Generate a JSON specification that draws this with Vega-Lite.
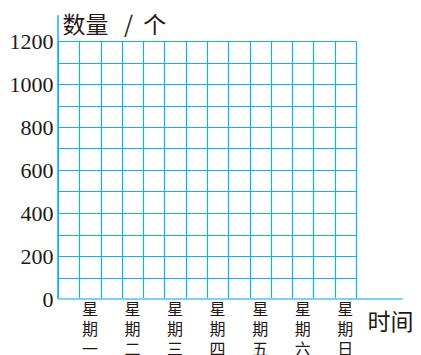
{
  "$schema": "https://vega.github.io/schema/vega-lite/v6.json",
  "width": 298,
  "height": 258,
  "autosize": "none",
  "padding": {"left": 58, "top": 41, "right": 65, "bottom": 56},
  "background": "white",
  "config": {"view": {"stroke": null}},
  "data": {
    "values": [
      {"时间": "星期一", "数量": null},
      {"时间": "星期二", "数量": null},
      {"时间": "星期三", "数量": null},
      {"时间": "星期四", "数量": null},
      {"时间": "星期五", "数量": null},
      {"时间": "星期六", "数量": null},
      {"时间": "星期日", "数量": null}
    ]
  },
  "resolve": {
    "scale": {"x": "independent", "y": "independent"},
    "axis": {"x": "independent", "y": "independent"}
  },
  "layer": [
    {
      "data": {"values": [{}]},
      "mark": {"type": "rule", "color": "#12b1ee", "strokeWidth": 1.5},
      "encoding": {
        "x": {
          "datum": 0,
          "type": "quantitative",
          "scale": {"domain": [0, 7], "nice": false, "zero": false},
          "axis": {
            "orient": "bottom",
            "values": [0, 0.5, 1, 1.5, 2, 2.5, 3, 3.5, 4, 4.5, 5, 5.5, 6, 6.5, 7],
            "grid": true,
            "gridColor": "#12b1ee",
            "gridOpacity": 1,
            "gridWidth": 1.2,
            "labels": false,
            "ticks": false,
            "domain": false,
            "title": null
          }
        },
        "y": {
          "datum": 0,
          "type": "quantitative",
          "scale": {"domain": [0, 1200], "nice": false},
          "axis": {
            "orient": "left",
            "values": [0, 100, 200, 300, 400, 500, 600, 700, 800, 900, 1000, 1100, 1200],
            "grid": true,
            "gridColor": "#12b1ee",
            "gridOpacity": 1,
            "gridWidth": 1.2,
            "labelExpr": "datum.value % 200 == 0 ? datum.label : ''",
            "format": "d",
            "labelFont": "Liberation Serif",
            "labelFontSize": 22,
            "labelColor": "#231815",
            "labelPadding": 5,
            "labelBaseline": "middle",
            "labelOverlap": false,
            "ticks": false,
            "domain": false,
            "title": "数量\u00a0\u00a0\u00a0/\u00a0\u00a0个",
            "titleAngle": 0,
            "titleAlign": "left",
            "titleBaseline": "bottom",
            "titleX": 4,
            "titleY": -4,
            "titleFont": "Noto Sans CJK SC",
            "titleFontSize": 23,
            "titleFontWeight": "normal",
            "titleColor": "#231815"
          }
        },
        "y2": {"datum": 1320}
      }
    },
    {
      "data": {"values": [{}]},
      "mark": {"type": "rule", "color": "#7dd2f2", "strokeWidth": 2},
      "encoding": {
        "x": {
          "datum": 0,
          "type": "quantitative",
          "scale": {"domain": [0, 7], "nice": false, "zero": false},
          "axis": null
        },
        "x2": {"datum": 8.1},
        "y": {
          "datum": 0,
          "type": "quantitative",
          "scale": {"domain": [0, 1200], "nice": false},
          "axis": null
        }
      }
    },
    {
      "mark": {"type": "point", "opacity": 0},
      "encoding": {
        "x": {
          "field": "时间",
          "type": "nominal",
          "sort": null,
          "scale": {
            "type": "band",
            "domain": ["星期一", "星期二", "星期三", "星期四", "星期五", "星期六", "星期日"],
            "paddingInner": 0,
            "paddingOuter": 0
          },
          "axis": {
            "orient": "bottom",
            "labelOffset": 10.6,
            "labelExpr": "[substring(datum.label,0,1), substring(datum.label,1,2), substring(datum.label,2,3)]",
            "labelAngle": 0,
            "labelFont": "Noto Sans CJK SC",
            "labelFontSize": 16,
            "labelLineHeight": 20,
            "labelColor": "#231815",
            "labelBaseline": "top",
            "labelPadding": 2,
            "ticks": false,
            "domain": false,
            "grid": false,
            "title": "时间",
            "titleX": 309,
            "titleY": 23,
            "titleAlign": "left",
            "titleBaseline": "middle",
            "titleFont": "Noto Sans CJK SC",
            "titleFontSize": 23,
            "titleFontWeight": "normal",
            "titleColor": "#231815"
          }
        }
      }
    }
  ]
}
